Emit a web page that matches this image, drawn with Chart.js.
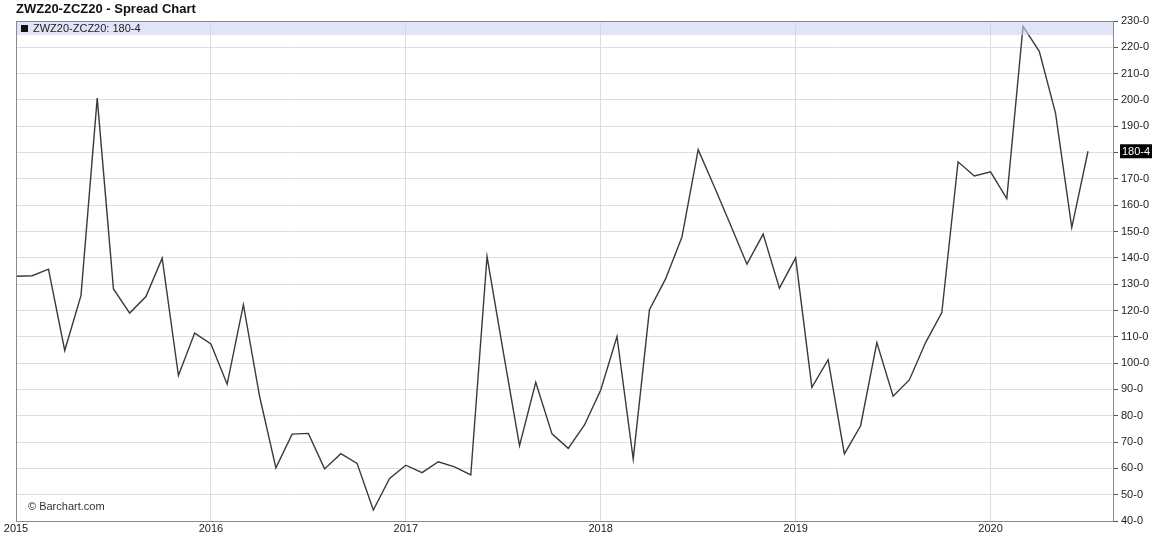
<!DOCTYPE html>
<html>
<head>
<meta charset="utf-8">
<script src="https://cdn.jsdelivr.net/npm/chart.js@4/dist/chart.umd.min.js"></script>
<style>
  html, body { margin: 0; padding: 0; background: #fff; }
  #wrap { width: 1159px; height: 537px; position: relative; }
</style>
</head>
<body>
<div id="wrap"><canvas id="myChart"></canvas></div>
<script>
// monthly spread settles, Jan 2015 .. Jul 2020 (one value per month)
const spreadValues = [
    133.0, 133.2, 135.7, 104.8, 125.6, 200.7, 128.2, 119.0, 125.3, 139.9, 95.3, 111.4,   // 2015
    107.3, 92.0, 122.2, 87.3, 60.2, 73.0, 73.3, 59.8, 65.6, 61.9, 44.2, 56.2,            // 2016
    61.2, 58.4, 62.5, 60.6, 57.5, 140.5, 104.3, 68.6, 92.7, 73.1, 67.6, 76.5,            // 2017
    89.8, 110.1, 63.5, 120.3, 132.1, 147.9, 181.1, 166.9, 152.4, 137.6, 149.0, 128.5,    // 2018
    140.0, 90.8, 101.3, 65.5, 76.2, 107.8, 87.4, 93.6, 107.8, 119.2, 176.5, 171.1,       // 2019
    172.7, 162.5, 228.0, 218.5, 195.0, 151.5, 180.5                                      // 2020
];
const yearLabels = ['2015', '2016', '2017', '2018', '2019', '2020'];
const lastLabel = '180-4';
const seriesName = 'ZWZ20-ZCZ20';

const FONT = "Arial, 'Liberation Sans', sans-serif";

const points = spreadValues.map((v, i) => ({ x: i, y: v }));

const extras = {
    id: 'extras',
    afterDatasetsDraw(chart) {
        const ctx = chart.ctx;
        const a = chart.chartArea;
        const y = chart.scales.y;
        ctx.save();
        // legend band
        ctx.fillStyle = 'rgba(205, 210, 245, 0.6)';
        ctx.fillRect(a.left, a.top, a.right - a.left, 14);
        ctx.fillStyle = '#111';
        ctx.fillRect(21, a.top + 4, 7, 7);
        ctx.fillStyle = '#222';
        ctx.font = '11px ' + FONT;
        ctx.textBaseline = 'middle';
        ctx.fillText(seriesName + ': ' + lastLabel, 33, a.top + 7.5);
        // frame
        ctx.strokeStyle = '#8a8a8a';
        ctx.lineWidth = 1;
        ctx.strokeRect(a.left + 0.5, a.top + 0.5, a.right - a.left - 1, a.bottom - a.top);
        // watermark
        ctx.fillStyle = '#333';
        ctx.font = '11px ' + FONT;
        ctx.fillText('\u00a9 Barchart.com', 28, a.bottom - 14);
        // title
        ctx.font = 'bold 13px ' + FONT;
        ctx.fillStyle = '#111';
        ctx.fillText(seriesName + ' - Spread Chart', 16, 9);
        // current value box
        const yy = y.getPixelForValue(spreadValues[spreadValues.length - 1]);
        ctx.fillStyle = '#000';
        ctx.fillRect(a.right + 6, yy - 7, 32, 14);
        ctx.fillStyle = '#fff';
        ctx.font = '11px ' + FONT;
        ctx.fillText(lastLabel, a.right + 8, yy + 0.5);
        ctx.restore();
    }
};

const config = {
    type: 'line',
    data: {
        datasets: [{
            label: seriesName,
            data: points,
            borderColor: '#3a3a3a',
            borderWidth: 1.4,
            pointRadius: 0,
            tension: 0,
            fill: false
        }]
    },
    options: {
        responsive: false,
        animation: false,
        layout: { padding: { left: 16, top: 21, right: 0, bottom: 0 } },
        plugins: {
            legend: { display: false },
            tooltip: { enabled: false }
        },
        scales: {
            x: {
                type: 'linear',
                min: 0,
                max: 67.6,
                afterBuildTicks: scale => {
                    scale.ticks = yearLabels.map((s, i) => ({ value: i * 12 }));
                },
                afterFit: scale => { scale.height = 16; },
                ticks: {
                    callback: (v, i) => yearLabels[i],
                    font: { size: 11, family: FONT },
                    color: '#222',
                    padding: 1,
                    maxRotation: 0
                },
                grid: { color: '#dcdcdc', drawTicks: false },
                border: { display: false }
            },
            y: {
                position: 'right',
                min: 40,
                max: 230,
                afterFit: scale => { scale.width = 45; },
                ticks: {
                    stepSize: 10,
                    callback: v => v + '-0',
                    font: { size: 11, family: FONT },
                    color: '#222',
                    padding: 3
                },
                grid: { color: '#dedede', tickColor: '#555', tickLength: 4 },
                border: { display: false }
            }
        }
    },
    plugins: [extras]
};

const canvas = document.getElementById('myChart');
canvas.width = 1159;
canvas.height = 537;
let myChart = new Chart(canvas, config);
</script>
</body>
</html>
